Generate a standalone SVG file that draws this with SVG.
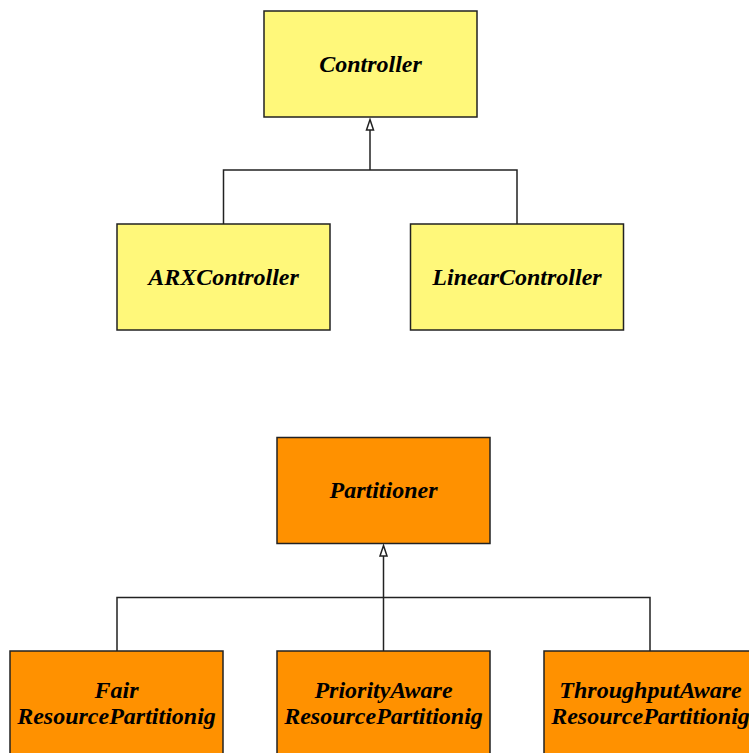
<svg xmlns="http://www.w3.org/2000/svg" width="749" height="753" viewBox="0 0 749 753">
  <style>
    .yellow { fill: #fff87a; stroke: #222; stroke-width: 1.5; }
    .orange { fill: #ff9100; stroke: #222; stroke-width: 1.5; }
    .label { font-family: "Liberation Serif", "Times New Roman", serif; font-weight: bold; font-style: italic; font-size: 24px; fill: #000; text-anchor: middle; }
    .edge { fill: none; stroke: #222; stroke-width: 1.5; }
    .head { fill: #fff; stroke: #222; stroke-width: 1.5; stroke-linejoin: miter; }
  </style>
  <rect width="749" height="753" fill="#fff"/>

  <g id="connectors">
    <path class="edge" d="M370,170 V130"/>
    <polygon class="head" points="370,119.5 373.5,130 366.5,130"/>
    <path class="edge" d="M223.5,224 V170 H517 V224"/>
    <path class="edge" d="M383.5,651 V556"/>
    <polygon class="head" points="383.5,545.5 387,556 380,556"/>
    <path class="edge" d="M117,651 V597.5 H650 V651"/>
  </g>

  <g id="controller">
    <rect class="yellow" x="264" y="11" width="213" height="106"/>
    <text class="label" x="370.5" y="72">Controller</text>
  </g>
  <g id="arx-controller">
    <rect class="yellow" x="117" y="224" width="213" height="106"/>
    <text class="label" x="223.5" y="285">ARXController</text>
  </g>
  <g id="linear-controller">
    <rect class="yellow" x="410.5" y="224" width="213" height="106"/>
    <text class="label" x="517" y="285">LinearController</text>
  </g>

  <g id="partitioner">
    <rect class="orange" x="277" y="437.5" width="213" height="106"/>
    <text class="label" x="383.5" y="498">Partitioner</text>
  </g>
  <g id="fair-partitioning">
    <rect class="orange" x="10" y="651" width="213" height="106"/>
    <text class="label" x="116.5" y="698">Fair</text>
    <text class="label" x="116.5" y="724">ResourcePartitionig</text>
  </g>
  <g id="priority-partitioning">
    <rect class="orange" x="277" y="651" width="213" height="106"/>
    <text class="label" x="383.5" y="698">PriorityAware</text>
    <text class="label" x="383.5" y="724">ResourcePartitionig</text>
  </g>
  <g id="throughput-partitioning">
    <rect class="orange" x="544" y="651" width="213" height="106"/>
    <text class="label" x="650.5" y="698">ThroughputAware</text>
    <text class="label" x="650.5" y="724">ResourcePartitionig</text>
  </g>
</svg>
